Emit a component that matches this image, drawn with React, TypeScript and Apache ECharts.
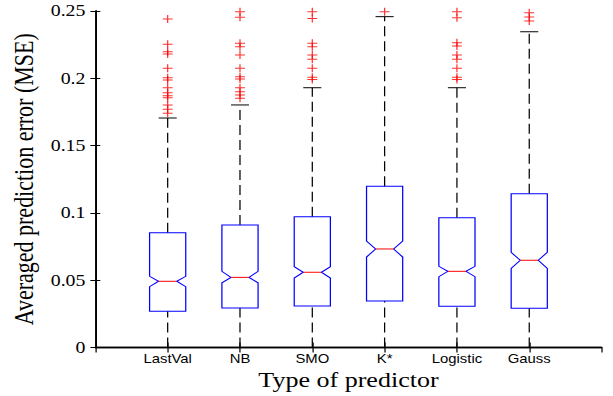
import React, { useEffect, useRef } from "react";
import * as echarts from "echarts";

const categories = ["LastVal", "NB", "SMO", "K*", "Logistic", "Gauss"];
const whiskerLow = [0, 0, 0, 0, 0, 0];
const q1 = [0.0269, 0.0293, 0.0308, 0.0345, 0.0306, 0.0291];
const notchLow = [0.0452, 0.0481, 0.0516, 0.0672, 0.0526, 0.0588];
const medians = [0.0492, 0.0521, 0.0559, 0.0732, 0.0566, 0.0648];
const notchHigh = [0.0529, 0.0566, 0.06, 0.0791, 0.0603, 0.0707];
const q3 = [0.0853, 0.091, 0.0972, 0.1198, 0.0964, 0.1143];
const whiskerHigh = [0.1705, 0.1802, 0.193, 0.2458, 0.193, 0.2346];

const outliersLastVal = [0.2441, 0.2253, 0.2198, 0.2181, 0.2074, 0.2005, 0.1987, 0.193, 0.1893, 0.1871, 0.1856, 0.1802, 0.177, 0.174];
const outliersNB = [0.2495, 0.2453, 0.226, 0.2235, 0.2173, 0.2074, 0.2012, 0.1995, 0.193, 0.19, 0.1876, 0.1851];
const outliersSMO = [0.2495, 0.2445, 0.226, 0.2235, 0.2173, 0.2141, 0.2074, 0.2007, 0.1992];
const outliersKStar = [0.2495];
const outliersLogistic = [0.2495, 0.245, 0.2265, 0.224, 0.2173, 0.2141, 0.2074, 0.2007, 0.1992];
const outliersGauss = [0.2487, 0.2455, 0.2425];
const outliers = [outliersLastVal, outliersNB, outliersSMO, outliersKStar, outliersLogistic, outliersGauss];

const yTicks = [0, 0.05, 0.1, 0.15, 0.2, 0.25];

const S = 1.24; // horizontal stretch of the original figure
const W = 613 / S;
const H = 396;

const serif = "'Liberation Serif', 'Times New Roman', serif";
const sans = "'Liberation Sans', Arial, sans-serif";

export default function App() {
  const ref = useRef<HTMLDivElement>(null);
  useEffect(() => {
    if (!ref.current) return;
    const chart = echarts.init(ref.current, undefined, { renderer: "svg" });
    const boxData = categories.map((_, i) => [
      i + 1,
      whiskerLow[i],
      q1[i],
      notchLow[i],
      medians[i],
      notchHigh[i],
      q3[i],
      whiskerHigh[i],
    ]);
    const scatterData: number[][] = [];
    outliers.forEach((arr, i) => arr.forEach((v) => scatterData.push([i + 1, v])));

    const hw = 0.25;
    const nw = 0.125;
    const option: any = {
      animation: false,
      backgroundColor: "#fff",
      grid: { left: 92 / S, right: W - 602 / S, top: 11, bottom: H - 347.5 },
      xAxis: [
        {
          type: "value",
          min: 0,
          max: 7,
          interval: 1,
          position: "bottom",
          splitLine: { show: false },
          axisLine: { lineStyle: { color: "#000", width: 1.4 } },
          axisTick: { inside: true, length: 5, lineStyle: { color: "#000", width: 1 } },
          axisLabel: {
            margin: 5,
            color: "#000",
            fontFamily: sans,
            fontSize: 12,
            formatter: (v: number) => categories[v - 1] ?? "",
            showMinLabel: false,
            showMaxLabel: false,
          },
          name: "Type of predictor",
          nameLocation: "middle",
          nameGap: 20,
          nameTextStyle: { fontFamily: serif, fontSize: 21, color: "#000" },
        },
        {
          type: "value",
          min: 0,
          max: 7,
          interval: 1,
          position: "top",
          splitLine: { show: false },
          axisLine: { lineStyle: { color: "#000", width: 1.4 } },
          axisTick: { inside: true, length: 5, lineStyle: { color: "#000", width: 1 } },
          axisLabel: { show: false },
        },
      ],
      yAxis: [
        {
          type: "value",
          min: 0,
          max: 0.25,
          interval: 0.05,
          position: "left",
          splitLine: { show: false },
          axisLine: { show: true, lineStyle: { color: "#000", width: 1.4 } },
          axisTick: { show: true, inside: true, length: 4, lineStyle: { color: "#000", width: 1 } },
          axisLabel: {
            margin: 8,
            color: "#000",
            fontFamily: serif,
            fontSize: 16,
            formatter: (v: number) => {
              const t = yTicks.find((y) => Math.abs(y - v) < 1e-9);
              return t === undefined ? "" : String(t);
            },
          },
          name: "Averaged prediction error (MSE)",
          nameLocation: "middle",
          nameGap: 43,
          nameTextStyle: { fontFamily: serif, fontSize: 22, color: "#000" },
        },
        {
          type: "value",
          min: 0,
          max: 0.25,
          interval: 0.05,
          position: "right",
          splitLine: { show: false },
          axisLine: { show: true, lineStyle: { color: "#000", width: 1.4 } },
          axisTick: { show: true, inside: true, length: 4, lineStyle: { color: "#000", width: 1 } },
          axisLabel: { show: false },
        },
      ],
      series: [
        {
          type: "custom",
          xAxisIndex: 0,
          yAxisIndex: 0,
          data: boxData,
          clip: false,
          renderItem: (params: any, api: any) => {
            const x = api.value(0);
            const lo = api.value(1);
            const b1 = api.value(2);
            const nl = api.value(3);
            const md = api.value(4);
            const nh = api.value(5);
            const b3 = api.value(6);
            const hi = api.value(7);
            const c = (dx: number, v: number) => api.coord([x + dx, v]);
            const dash = { stroke: "#000", lineWidth: 1, lineDash: [10, 5], fill: "none" };
            const solid = { stroke: "#000", lineWidth: 1, fill: "none" };
            const p = (a: number[], b: number[]) => ({ x1: a[0], y1: a[1], x2: b[0], y2: b[1] });
            return {
              type: "group",
              children: [
                { type: "line", shape: p(c(0, b3), c(0, hi)), style: dash },
                { type: "line", shape: p(c(0, lo), c(0, b1)), style: dash },
                { type: "line", shape: p(c(-nw, hi), c(nw, hi)), style: solid },
                { type: "line", shape: p(c(-nw, lo), c(nw, lo)), style: solid },
                {
                  type: "polygon",
                  shape: {
                    points: [
                      c(-hw, b1),
                      c(-hw, nl),
                      c(-nw, md),
                      c(-hw, nh),
                      c(-hw, b3),
                      c(hw, b3),
                      c(hw, nh),
                      c(nw, md),
                      c(hw, nl),
                      c(hw, b1),
                    ],
                  },
                  style: { stroke: "#0000ff", lineWidth: 1, fill: "none" },
                },
                {
                  type: "line",
                  shape: p(c(-nw, md), c(nw, md)),
                  style: { stroke: "#ff0000", lineWidth: 1 },
                },
              ],
            };
          },
        },
        {
          type: "scatter",
          xAxisIndex: 0,
          yAxisIndex: 0,
          data: scatterData,
          clip: false,
          symbol: "path://M0,5 L10,5 M5,0 L5,10",
          symbolSize: 8,
          itemStyle: { color: "none", borderColor: "#ff0000", borderWidth: 1 },
        },
      ],
    };
    chart.setOption(option);
    return () => chart.dispose();
  }, []);

  return (
    <div
      ref={ref}
      style={{
        position: "fixed",
        left: 0,
        top: 0,
        width: W,
        height: H,
        transform: `scaleX(${S})`,
        transformOrigin: "0 0",
        background: "#fff",
      }}
    />
  );
}
